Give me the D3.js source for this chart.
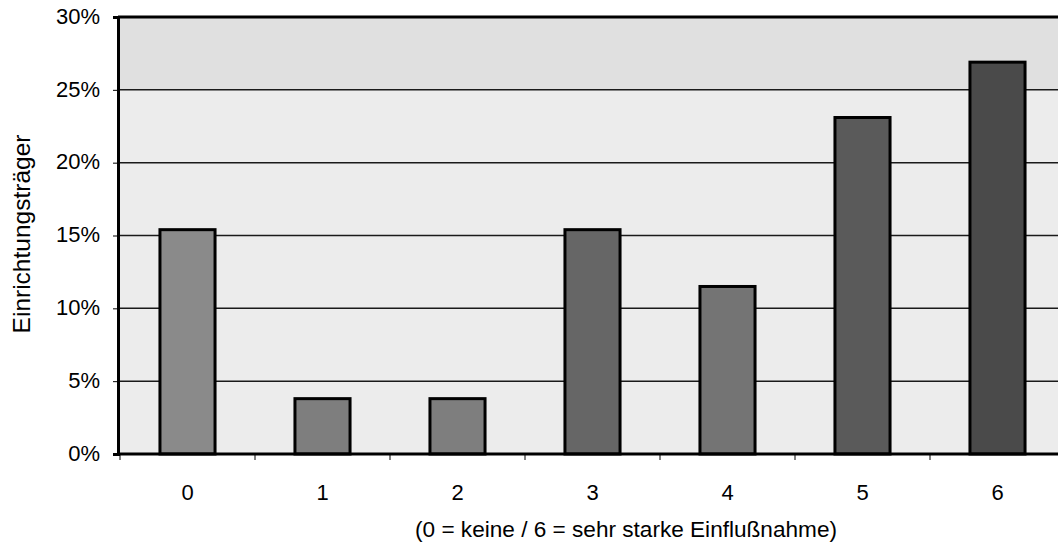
<!DOCTYPE html>
<html>
<head>
<meta charset="utf-8">
<script src="https://cdn.jsdelivr.net/npm/d3@7"></script>
<style>
html,body{margin:0;padding:0;background:#fff;}
svg{display:block;font-family:"Liberation Sans",Arial,sans-serif;}
</style>
</head>
<body>
<svg id="chart" width="1058" height="546"></svg>
<script>
const categories = ["0","1","2","3","4","5","6"];
const shares = [0.154, 0.038, 0.038, 0.154, 0.115, 0.231, 0.269];
const yTicks = [0, 0.05, 0.10, 0.15, 0.20, 0.25, 0.30];
const yTickLabels = ["0%","5%","10%","15%","20%","25%","30%"];
const barFills = ["#8a8a8a","#7e7e7e","#7e7e7e","#666666","#747474","#5a5a5a","#4a4a4a"];
const yTitle = "Einrichtungsträger";
const xTitle = "(0 = keine / 6 = sehr starke Einflußnahme)";

(function () {
const svg = d3.select("#chart");
const pLeft = 118, pRight = 1065, pTop = 17, pBottom = 454;

const x = d3.scaleBand().domain(categories).range([pLeft + 2, pRight]).paddingInner(0.592).paddingOuter(0.296);
const y = d3.scaleLinear().domain([0, 0.3]).range([pBottom, pTop]);

// plot background
svg.append("rect").attr("x", pLeft).attr("y", pTop).attr("width", pRight - pLeft).attr("height", pBottom - pTop)
  .attr("fill", "#ececec");
svg.append("rect").attr("x", pLeft).attr("y", pTop).attr("width", pRight - pLeft).attr("height", y(0.25) - pTop)
  .attr("fill", "#e0e0e0");

// gridlines
svg.append("g").selectAll("line").data(yTicks.filter(d => d > 0 && d < 0.3)).join("line")
  .attr("x1", pLeft).attr("x2", pRight).attr("y1", d => y(d)).attr("y2", d => y(d))
  .attr("stroke", "#1a1a1a").attr("stroke-width", 1.5);

// bars
svg.append("g").selectAll("rect").data(shares).join("rect")
  .attr("x", (d, i) => x(categories[i]))
  .attr("y", d => y(d))
  .attr("width", x.bandwidth())
  .attr("height", d => y(0) - y(d))
  .attr("fill", (d, i) => barFills[i])
  .attr("stroke", "#000").attr("stroke-width", 3);

// top border
svg.append("line").attr("x1", pLeft).attr("x2", pRight).attr("y1", pTop).attr("y2", pTop)
  .attr("stroke", "#000").attr("stroke-width", 3);

// y axis
const yAxis = d3.axisLeft(y).tickValues(yTicks).tickFormat((d, i) => yTickLabels[i]).tickSize(5).tickPadding(13);
const gy = svg.append("g").attr("transform", `translate(${pLeft},0)`).call(yAxis);
gy.select(".domain").attr("stroke", "#000").attr("stroke-width", 3);
gy.selectAll(".tick line").attr("stroke", "#000").attr("stroke-width", 1);
gy.selectAll(".tick text").attr("font-size", 22).attr("fill", "#000")
  .attr("font-family", "'Liberation Sans', Arial, sans-serif").attr("dy", "0.28em");

// x axis: tick marks at band boundaries
const step = x.step();
const boundaries = categories.map((c, i) => pLeft + 2 + i * step).concat([pLeft + 2 + categories.length * step]);
svg.append("line").attr("x1", pLeft).attr("x2", pRight).attr("y1", pBottom).attr("y2", pBottom)
  .attr("stroke", "#000").attr("stroke-width", 3);
svg.append("g").selectAll("line").data(boundaries).join("line")
  .attr("x1", d => d).attr("x2", d => d).attr("y1", pBottom).attr("y2", pBottom + 6)
  .attr("stroke", "#000").attr("stroke-width", 1);
svg.append("g").selectAll("text").data(categories).join("text")
  .attr("x", d => x(d) + x.bandwidth() / 2)
  .attr("y", 500)
  .attr("text-anchor", "middle").attr("font-size", 22).attr("fill", "#000")
  .text(d => d);

// titles
svg.append("text").attr("x", 626).attr("y", 537).attr("text-anchor", "middle")
  .attr("font-size", 22.6).attr("fill", "#000").text(xTitle);
svg.append("text").attr("transform", "translate(30,234) rotate(-90)").attr("text-anchor", "middle")
  .attr("font-size", 24.5).attr("fill", "#000").text(yTitle);
})();
</script>
</body>
</html>
